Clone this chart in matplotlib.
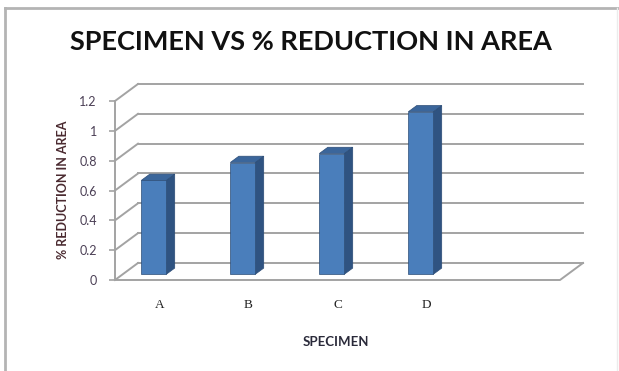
import matplotlib.pyplot as plt
from matplotlib.lines import Line2D
from matplotlib.patches import Polygon

# data
specimens = ['A', 'B', 'C', 'D']
reduction = [0.63, 0.75, 0.81, 1.09]
y_ticks = [0, 0.2, 0.4, 0.6, 0.8, 1, 1.2]
n_slots = 5

W, H = 619, 371
fig = plt.figure(figsize=(W / 100, H / 100), dpi=100)
fig.patch.set_facecolor('white')

# front plane of the 3d box: x 115..560 px, y 280..101 px
ax = fig.add_axes([115 / W, (H - 280) / H, 445 / W, 179 / H])
ax.set_xlim(0, n_slots)
ax.set_ylim(0, 1.2)
ax.patch.set_alpha(0)

# depth of the box in data units (oblique projection, back goes up-right)
DX = 23 / 89.0
DY = 17 / 149.0
grid_c = '#a3a3a3'

# back wall gridlines + side wall diagonals
for t in y_ticks:
    ax.plot([DX, n_slots + DX], [t + DY, t + DY], color=grid_c, lw=1.4,
            clip_on=False, zorder=1)
    ax.plot([0, DX], [t, t + DY], color=grid_c, lw=1.4, clip_on=False, zorder=1)

# floor edges
ax.plot([0, n_slots, n_slots + DX], [0, 0, DY], color=grid_c, lw=1.4,
        clip_on=False, zorder=1)

front_c = '#4a7ebb'
side_c = '#2f5381'
top_c = '#3b669b'
edge_c = '#2c4d77'
d0, d1 = 0.33, 0.70
bw = 0.28
for i, v in enumerate(reduction):
    x0 = i + 0.21 + d0 * DX
    x1 = x0 + bw
    y0 = d0 * DY
    ex = (d1 - d0) * DX
    ey = (d1 - d0) * DY
    front = [(x0, y0), (x1, y0), (x1, y0 + v), (x0, y0 + v)]
    side = [(x1, y0), (x1 + ex, y0 + ey), (x1 + ex, y0 + v + ey), (x1, y0 + v)]
    top = [(x0, y0 + v), (x1, y0 + v), (x1 + ex, y0 + v + ey), (x0 + ex, y0 + v + ey)]
    for pts, c in [(side, side_c), (top, top_c), (front, front_c)]:
        ax.add_patch(Polygon(pts, closed=True, facecolor=c, edgecolor=edge_c,
                             lw=0.5, clip_on=False, zorder=3))

for s in ['top', 'right', 'bottom']:
    ax.spines[s].set_visible(False)
ax.spines['left'].set_color(grid_c)
ax.spines['left'].set_linewidth(1.4)

ax.set_yticks(y_ticks)
ax.set_yticklabels([f'{t:g}' for t in y_ticks], fontfamily='Lato',
                   fontsize=9, color='#4b3f55')
ax.tick_params(axis='y', direction='out', length=4, width=1.2,
               color=grid_c, pad=9)

ax.set_xticks([i + 0.5 for i in range(len(specimens))])
ax.set_xticklabels(specimens, fontfamily='Liberation Serif', fontsize=9.5,
                   color='#222222')
ax.tick_params(axis='x', length=0, pad=14)

fig.text(311 / W, 1 - 42 / H, 'SPECIMEN VS % REDUCTION IN AREA',
         ha='center', va='center', fontfamily='Lato', fontweight='bold',
         fontsize=19.5, color='#111111')
fig.text(336 / W, 1 - 342 / H, 'SPECIMEN', ha='center', va='center',
         fontfamily='Lato', fontweight='bold', fontsize=9.5, color='#2a2a3a')
fig.text(63 / W, 1 - 190 / H, '% REDUCTION IN AREA', ha='center',
         va='center', rotation=90, fontfamily='Lato', fontweight='bold',
         fontsize=9, color='#4a2a30')

# chart frame: left and top edges grey, right edge faint
fig.lines.append(Line2D([5 / W, 5 / W], [0, 1 - 8 / H], transform=fig.transFigure,
                        color='#b4b4b4', lw=2))
fig.lines.append(Line2D([5 / W, 1], [1 - 8 / H, 1 - 8 / H], transform=fig.transFigure,
                        color='#b4b4b4', lw=2))
fig.lines.append(Line2D([617 / W, 617 / W], [0, 1 - 8 / H], transform=fig.transFigure,
                        color='#ececec', lw=1))

fig.savefig('out.png', dpi=100)
